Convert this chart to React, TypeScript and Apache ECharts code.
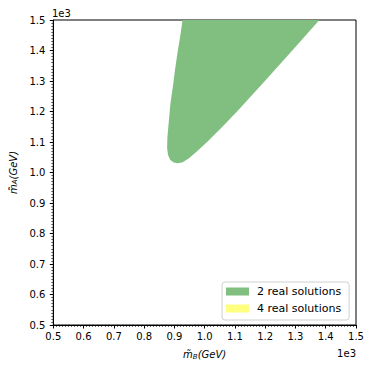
import React, { useEffect, useRef } from "react";
import * as echarts from "echarts";

// Boundary of the "2 real solutions" region (GeV), traced from top-left, down the left edge,
// round the bottom and back up the right edge
const regionMB = [927, 919, 910, 902, 895, 887, 882, 877, 876, 879, 886.5, 898, 911, 927.5, 947, 974, 1008, 1061, 1107, 1199, 1289.5, 1379];
const regionMA = [1500, 1445, 1391, 1336, 1281, 1227, 1172, 1117, 1080, 1057, 1041, 1033, 1030.5, 1034, 1046, 1069, 1100, 1152.5, 1200, 1300, 1400, 1500];
// "4 real solutions" region: none visible
const region4MB: number[] = [];
const region4MA: number[] = [];

const axisMin = 500;
const axisMax = 1500;
const axisStep = 100;
const seriesNames = ["2 real solutions", "4 real solutions"];
const seriesColors = ["#80bf80", "#ffff80"];

const FONT = "DejaVu Sans";

function polySeries(name: string, color: string, xs: number[], ys: number[]) {
  return {
    name,
    type: "custom",
    coordinateSystem: "cartesian2d",
    clip: true,
    itemStyle: { color },
    data: xs.length ? [[xs[0], ys[0]]] : [],
    renderItem: (params: any, api: any) => {
      const pts = xs.map((x, i) => api.coord([x, ys[i]]));
      return {
        type: "polygon",
        shape: { points: pts },
        style: { fill: color, stroke: "none" },
      };
    },
  };
}

export default function App() {
  const ref = useRef<HTMLDivElement>(null);
  useEffect(() => {
    if (!ref.current) return;
    const chart = echarts.init(ref.current, null, { renderer: "svg" });
    const nameRich = {
      i: { fontFamily: FONT, fontStyle: "italic", fontSize: 10, color: "#000" },
      s: { fontFamily: FONT, fontStyle: "italic", fontSize: 7, color: "#000", padding: [4, 0, 0, 0] },
    };
    const axisCommon = {
      type: "value",
      min: axisMin,
      max: axisMax,
      interval: axisStep,
      axisLine: { show: true, lineStyle: { color: "#000", width: 1 } },
      axisTick: { show: true, length: 3.5, lineStyle: { color: "#000", width: 1 } },
      minorTick: { show: true, splitNumber: 10, length: 2, lineStyle: { color: "#000", width: 0.6 } },
      splitLine: { show: false },
      minorSplitLine: { show: false },
      axisLabel: {
        color: "#000",
        fontFamily: FONT,
        fontSize: 10,
        formatter: (v: number) => (v / 1000).toFixed(1),
      },
    };
    chart.setOption({
      animation: false,
      backgroundColor: "#fff",
      grid: {
        left: 52,
        right: 18,
        top: 20,
        bottom: 45,
        show: true,
        borderColor: "#000",
        borderWidth: 1,
        backgroundColor: "transparent",
      },
      xAxis: {
        ...axisCommon,
        axisLabel: { ...axisCommon.axisLabel, margin: 6 },
        name: "{i|m̃}{s|B}{i|(GeV)}",
        nameLocation: "middle",
        nameGap: 24,
        nameTextStyle: { rich: nameRich },
      },
      yAxis: {
        ...axisCommon,
        axisLabel: { ...axisCommon.axisLabel, margin: 8 },
        name: "{i|m̃}{s|A}{i|(GeV)}",
        nameLocation: "middle",
        nameGap: 27,
        nameTextStyle: { rich: nameRich },
      },
      legend: {
        orient: "vertical",
        left: 222,
        top: 282,
        data: seriesNames.map((n, i) => ({ name: n, itemStyle: { color: seriesColors[i] } })),
        icon: "rect",
        itemWidth: 23,
        itemHeight: 8,
        itemGap: 4,
        padding: [3, 8, 5, 4],
        borderColor: "#d0d0d0",
        borderWidth: 1,
        borderRadius: 3,
        backgroundColor: "rgba(255,255,255,0.8)",
        textStyle: { fontFamily: FONT, fontSize: 11, color: "#000", padding: [0, 0, 0, 3], lineHeight: 13 },
      },
      graphic: [
        {
          type: "text",
          left: 52,
          top: 8,
          style: { text: "1e3", fontFamily: FONT, fontSize: 10, fill: "#000" },
        },
        {
          type: "text",
          right: 18,
          top: 348,
          style: { text: "1e3", fontFamily: FONT, fontSize: 10, fill: "#000" },
        },
      ],
      series: [
        polySeries(seriesNames[0], seriesColors[0], regionMB, regionMA),
        polySeries(seriesNames[1], seriesColors[1], region4MB, region4MA),
      ],
    });
    return () => chart.dispose();
  }, []);
  return (
    <div
      ref={ref}
      style={{ position: "fixed", left: 0, top: 0, width: 374, height: 370 }}
    />
  );
}
